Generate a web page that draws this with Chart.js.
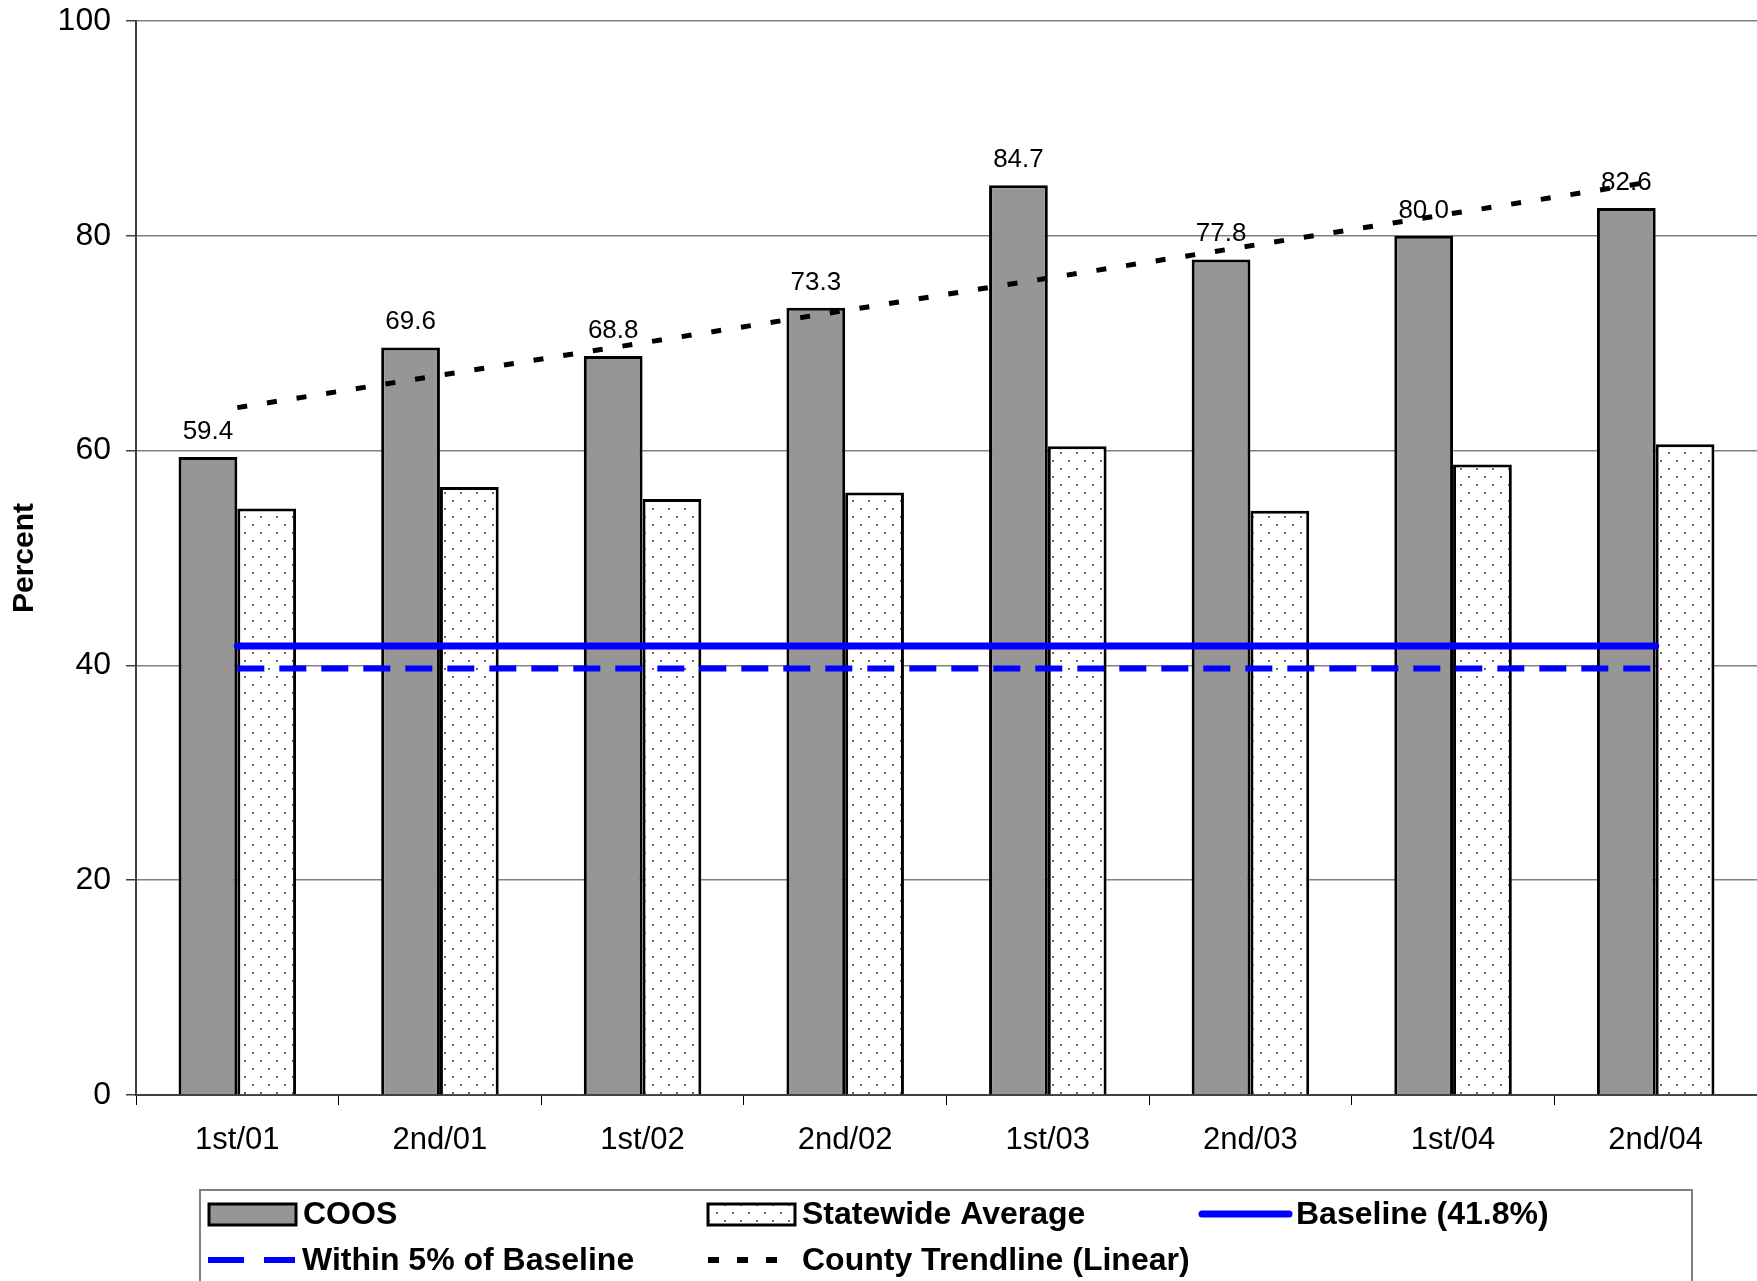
<!DOCTYPE html>
<html>
<head>
<meta charset="utf-8">
<title>COOS - Percent</title>
<script src="https://cdn.jsdelivr.net/npm/chart.js@4/dist/chart.umd.min.js"></script>
<style>
  body { margin: 0; background: #fff; }
  #chart { display: block; }
</style>
</head>
<body>
<canvas id="chart" width="1757" height="1281"></canvas>
<script>
// --------- DATA ----------
const categories = ['1st/01', '2nd/01', '1st/02', '2nd/02', '1st/03', '2nd/03', '1st/04', '2nd/04'];
const coosValues = [59.4, 69.6, 68.8, 73.3, 84.7, 77.8, 80.0, 82.6];
const statewideValues = [54.6, 56.6, 55.5, 56.1, 60.4, 54.4, 58.7, 60.6];
const baselineValues = [41.8, 41.8, 41.8, 41.8, 41.8, 41.8, 41.8, 41.8];
const within5Values = [39.7, 39.7, 39.7, 39.7, 39.7, 39.7, 39.7, 39.7];
// linear trendline: only its two ends are read, the line joins them
const trendValues = [64.0, null, null, null, null, null, null, 85.1];
const yTicks = [0, 20, 40, 60, 80, 100];

const FONT = "'Liberation Sans', Arial, sans-serif";
Chart.defaults.font.family = FONT;
Chart.defaults.color = '#000';

// dotted fill for the statewide bars
function dotPattern() {
  const c = document.createElement('canvas');
  c.width = 16; c.height = 16;
  const g = c.getContext('2d');
  g.fillStyle = '#fff';
  g.fillRect(0, 0, 16, 16);
  g.fillStyle = '#666';
  g.fillRect(4, 4, 2, 2);
  g.fillRect(12, 12, 2, 2);
  return g.createPattern(c, 'repeat');
}

// value labels above the COOS bars (drawn before the lines, so the trendline crosses them)
const barLabels = {
  id: 'barLabels',
  afterDatasetDraw(chart, args) {
    if (args.index !== 0) return;
    const ctx = chart.ctx;
    ctx.save();
    ctx.font = '26px ' + FONT;
    ctx.fillStyle = '#000';
    ctx.textAlign = 'center';
    ctx.textBaseline = 'alphabetic';
    args.meta.data.forEach((bar, i) => {
      ctx.fillText(coosValues[i].toFixed(1), bar.x, bar.y - 18);
    });
    ctx.restore();
  }
};

// boxed legend, three columns like the original
const LEGEND_SLOTS = [
  { x: 209, row: 0 },
  { x: 708, row: 0 },
  { x: 1202, row: 0 },
  { x: 208, row: 1, dash: [36, 20] },
  { x: 708, row: 1, dash: [11, 18], width: 6 }
];
const boxLegend = {
  id: 'boxLegend',
  afterDraw(chart) {
    const ctx = chart.ctx;
    const rows = [1214, 1260];
    ctx.save();
    ctx.strokeStyle = '#808080';
    ctx.lineWidth = 2;
    ctx.strokeRect(200, 1190, 1492, 120);

    chart.data.datasets.forEach((ds, i) => {
      const slot = LEGEND_SLOTS[i];
      const y = rows[slot.row];
      const w = 87;
      if (ds.type === 'bar') {
        ctx.fillStyle = ds.backgroundColor;
        ctx.fillRect(slot.x, y - 10, w, 21);
        ctx.strokeStyle = '#000';
        ctx.lineWidth = 3;
        ctx.strokeRect(slot.x, y - 10, w, 21);
      } else {
        ctx.strokeStyle = ds.borderColor;
        ctx.lineWidth = slot.width || ds.borderWidth;
        ctx.lineCap = slot.dash ? 'butt' : 'round';
        ctx.setLineDash(slot.dash || []);
        ctx.beginPath();
        ctx.moveTo(slot.x, y);
        ctx.lineTo(slot.x + w, y);
        ctx.stroke();
        ctx.setLineDash([]);
      }
      ctx.fillStyle = '#000';
      ctx.font = 'bold 32px ' + FONT;
      ctx.textAlign = 'left';
      ctx.textBaseline = 'middle';
      ctx.fillText(ds.label, slot.x + 94, y + 1);
    });
    ctx.restore();
  }
};

new Chart(document.getElementById('chart').getContext('2d'), {
  data: {
    labels: categories,
    datasets: [
      {
        type: 'bar',
        label: 'COOS',
        data: coosValues,
        backgroundColor: '#969696',
        borderColor: '#000',
        borderWidth: 3,
        categoryPercentage: 0.58,
        barPercentage: 1,
        order: 2
      },
      {
        type: 'bar',
        label: 'Statewide Average',
        data: statewideValues,
        backgroundColor: dotPattern(),
        borderColor: '#000',
        borderWidth: 3,
        categoryPercentage: 0.58,
        barPercentage: 1,
        order: 2
      },
      {
        type: 'line',
        label: 'Baseline (41.8%)',
        data: baselineValues,
        borderColor: '#0000ff',
        borderWidth: 7,
        borderCapStyle: 'round',
        pointRadius: 0,
        fill: false,
        order: 1
      },
      {
        type: 'line',
        label: 'Within 5% of Baseline',
        data: within5Values,
        borderColor: '#0000ff',
        borderWidth: 6,
        borderDash: [27, 15],
        pointRadius: 0,
        fill: false,
        order: 1
      },
      {
        type: 'line',
        label: 'County Trendline (Linear)',
        data: trendValues,
        borderColor: '#000',
        borderWidth: 5,
        borderDash: [10, 20],
        spanGaps: true,
        pointRadius: 0,
        fill: false,
        order: 1
      }
    ]
  },
  options: {
    responsive: false,
    animation: false,
    layout: { padding: { top: 21, right: 0, bottom: 116, left: 0 } },
    plugins: {
      legend: { display: false },
      tooltip: { enabled: false }
    },
    scales: {
      x: {
        grid: {
          offset: true,
          drawOnChartArea: false,
          drawTicks: true,
          tickLength: 10,
          tickColor: '#000',
          tickWidth: 1
        },
        border: { display: true, color: '#404040', width: 2 },
        ticks: { font: { size: 31 }, color: '#000', padding: 17, maxRotation: 0 },
        afterFit(scale) { scale.height = 70; }
      },
      y: {
        min: 0,
        max: 100,
        afterBuildTicks(scale) { scale.ticks = yTicks.map(v => ({ value: v })); },
        grid: { color: '#808080', lineWidth: 1.5, tickLength: 10, tickColor: '#404040' },
        border: { display: true, color: '#404040', width: 2 },
        ticks: { font: { size: 32 }, color: '#000', padding: 15 },
        title: {
          display: true,
          text: 'Percent',
          font: { size: 30, weight: 'bold' },
          color: '#000',
          padding: { top: 7, bottom: 0 }
        },
        afterFit(scale) {
          scale.width = 136;
          scale.paddingTop = 0;
          scale.paddingBottom = 0;
        }
      }
    }
  },
  plugins: [barLabels, boxLegend]
});
</script>
</body>
</html>
